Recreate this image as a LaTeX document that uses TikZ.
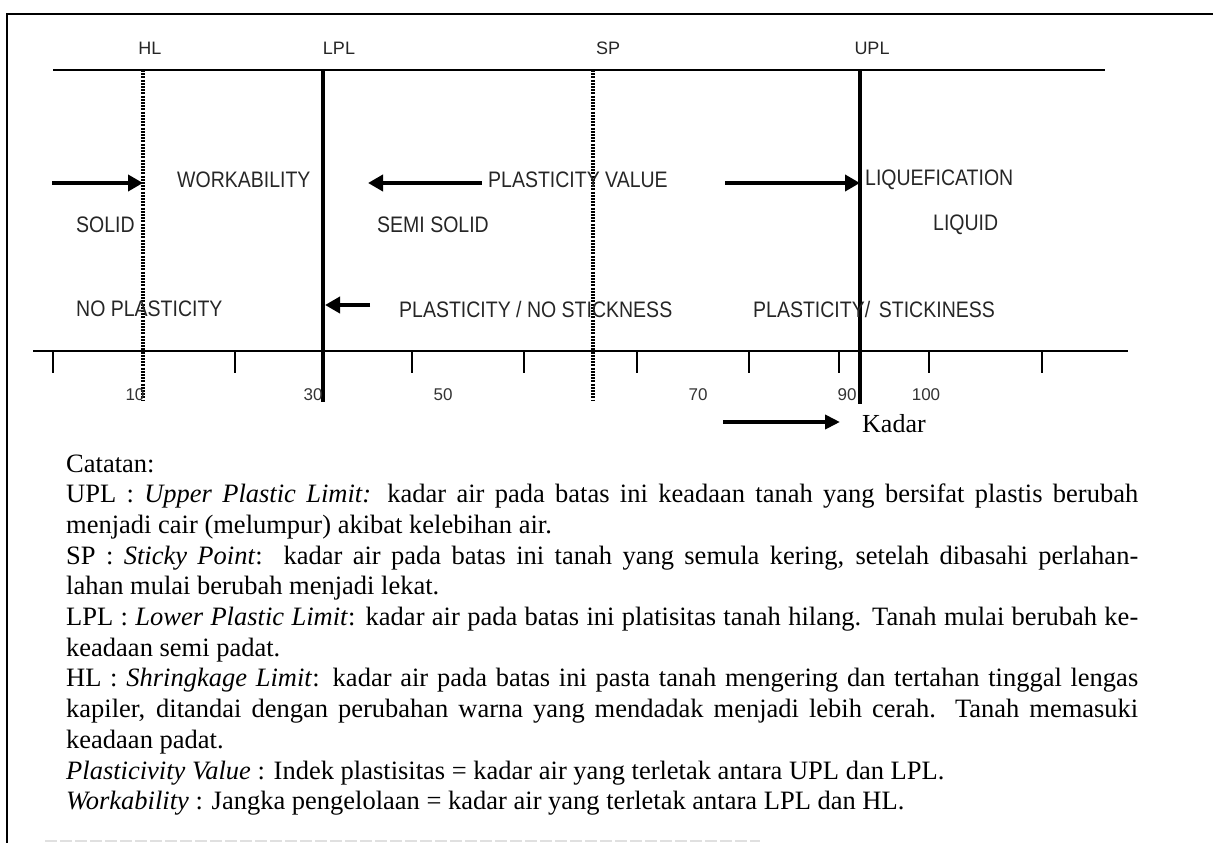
\documentclass[tikz,border=0pt]{standalone}
\usepackage{fontspec}
\setmainfont{Liberation Serif}
\setsansfont{Liberation Sans}
\usetikzlibrary{arrows.meta}
\newcommand{\tallsf}[1]{\scalebox{1}[1.15]{#1}}
\tikzset{
  lbl/.style={font=\sffamily\fontsize{19.5}{20}\selectfont, text=black!85, inner sep=0pt, anchor=west},
  toplbl/.style={font=\sffamily\fontsize{18}{18}\selectfont, text=black!85, inner sep=0pt},
  numlbl/.style={font=\sffamily\fontsize{17}{17}\selectfont, text=black!80, inner sep=0pt},
  axisline/.style={line width=2.2pt},
  tickline/.style={line width=2pt},
  solidlim/.style={line width=4pt},
  dotlim/.style={line width=3.5pt, dash pattern=on 2pt off 1.2pt},
  bigarrow/.style={line width=4.5pt, -{Triangle[length=15pt,width=16pt]}},
  kadararrow/.style={line width=4pt, -{Triangle[length=15pt,width=14pt]}},
  note/.style={font=\fontsize{26.5}{30}\selectfont, inner sep=0pt, anchor=base west},
}
\begin{document}
\begin{tikzpicture}[x=1pt, y=-1pt]
\useasboundingbox (0,0) rectangle (1213,843);
% frame
\coordinate (fTR) at (1213,14);
\coordinate (fTL) at (7,14);
\coordinate (fBL) at (7,843);
\draw[line width=2pt] (fTR) -- (fTL) -- (fBL);
\coordinate (gL) at (45,841);
\coordinate (gR) at (760,841);
\draw[black!12, line width=1.5pt, dash pattern=on 12pt off 3pt] (gL) -- (gR);

% axes
\coordinate (topL) at (53,70);
\coordinate (topR) at (1105,70);
\coordinate (botL) at (33,351);
\coordinate (botR) at (1128,351);
\draw[axisline] (topL) -- (topR);
\draw[axisline] (botL) -- (botR);

% ticks
\foreach \tx [count=\i] in {53,235,412,524,637,749,839,929,1042}{
  \coordinate (t\i a) at (\tx,351);
  \coordinate (t\i b) at (\tx,373);
  \draw[tickline] (t\i a) -- (t\i b);
}

% limit labels
\node[toplbl] (hl) at (150,48) {HL};
\node[toplbl] (lpl) at (339,48) {LPL};
\node[toplbl] (sp) at (608,48) {SP};
\node[toplbl] (upl) at (872,48) {UPL};

% limit lines
\coordinate (hlT) at (143,70);  \coordinate (hlB) at (143,400);
\coordinate (lplT) at (323,70); \coordinate (lplB) at (323,402);
\coordinate (spT) at (593,70);  \coordinate (spB) at (593,400);
\coordinate (uplT) at (860,70); \coordinate (uplB) at (860,404);
\draw[dotlim] (hlT) -- (hlB);
\draw[solidlim] (lplT) -- (lplB);
\draw[dotlim] (spT) -- (spB);
\draw[solidlim] (uplT) -- (uplB);

% region labels
\node[lbl] (work) at (177,180) {\tallsf{WORKABILITY}};
\node[lbl] (pval) at (488,180) {\tallsf{PLASTICITY VALUE}};
\node[lbl] (liqf) at (865,180) {\tallsf{LIQUEFICATION}};
\node[lbl] (solid) at (76,225) {\tallsf{SOLID}};
\node[lbl] (semi) at (377,225) {\tallsf{SEMI SOLID}};
\node[lbl] (liquid) at (933,225) {\tallsf{LIQUID}};
\node[lbl] (nopl) at (76,309) {\tallsf{NO PLASTICITY}};
\node[lbl] (plno) at (399,309) {\tallsf{PLASTICITY / NO STICKNESS}};
\node[lbl] (plst) at (753,309) {\tallsf{PLASTICITY/\, STICKINESS}};

% arrows
\coordinate (a1s) at (52,183);  \coordinate (a1e) at (143,183);
\coordinate (a2s) at (482,183); \coordinate (a2e) at (368,183);
\coordinate (a3s) at (725,183); \coordinate (a3e) at (860,183);
\coordinate (a4s) at (370,305); \coordinate (a4e) at (325,305);
\draw[bigarrow] (a1s) -- (a1e);
\draw[bigarrow] (a2s) -- (a2e);
\draw[bigarrow] (a3s) -- (a3e);
\draw[bigarrow] (a4s) -- (a4e);

% numbers
\node[numlbl] (n10) at (135,395) {10};
\node[numlbl] (n30) at (313,395) {30};
\node[numlbl] (n50) at (443,395) {50};
\node[numlbl] (n70) at (698,395) {70};
\node[numlbl] (n90) at (847,395) {90};
\node[numlbl] (n100) at (926,395) {100};

% Kadar
\node[font=\fontsize{26}{26}\selectfont, inner sep=0pt, anchor=base west] (kadar) at (862,432) {Kadar};
\coordinate (ks) at (723,422);
\coordinate (ke) at (840,422);
\draw[kadararrow] (ks) -- (ke);

% notes
\node[note] (c0) at (66,472) {Catatan:};
\node[note] (c1) at (66,502.7) {\makebox[1072pt][s]{UPL : \textit{Upper Plastic Limit:} kadar air pada batas ini keadaan tanah yang bersifat plastis berubah}};
\node[note] (c2) at (66,533.4) {menjadi cair (melumpur) akibat kelebihan air.};
\node[note] (c3) at (66,564.1) {\makebox[1072pt][s]{SP : \textit{Sticky Point}:\ \ kadar air pada batas ini tanah yang semula kering, setelah dibasahi perlahan-}};
\node[note] (c4) at (66,594.8) {lahan mulai berubah menjadi lekat.};
\node[note] (c5) at (66,625.5) {\makebox[1072pt][s]{LPL : \textit{Lower Plastic Limit}: kadar air pada batas ini platisitas tanah hilang. Tanah mulai berubah ke-}};
\node[note] (c6) at (66,656.2) {keadaan semi padat.};
\node[note] (c7) at (66,686.9) {\makebox[1072pt][s]{HL : \textit{Shringkage Limit}: kadar air pada batas ini pasta tanah mengering dan tertahan tinggal lengas}};
\node[note] (c8) at (66,717.6) {\makebox[1072pt][s]{kapiler, ditandai dengan perubahan warna yang mendadak menjadi lebih cerah. Tanah memasuki}};
\node[note] (c9) at (66,748.3) {keadaan padat.};
\node[note] (c10) at (66,779) {\textit{Plasticivity Value} : Indek plastisitas = kadar air yang terletak antara UPL dan LPL.};
\node[note] (c11) at (66,809.7) {\textit{Workability} : Jangka pengelolaan = kadar air yang terletak antara LPL dan HL.};
\end{tikzpicture}
\end{document}
